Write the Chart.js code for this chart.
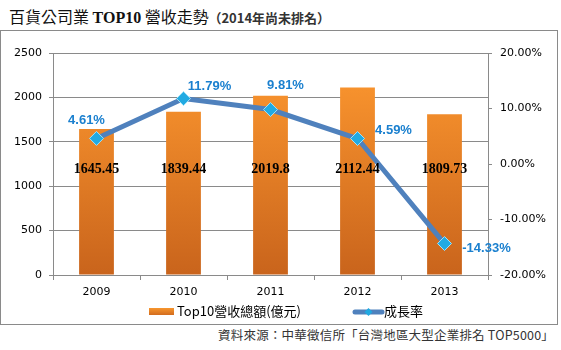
<!DOCTYPE html>
<html>
<head>
<meta charset="utf-8">
<script src="https://cdn.jsdelivr.net/npm/chart.js@4"></script>
<style>
  body { margin: 0; background: #fff; }
  .wrap { position: relative; width: 561px; height: 350px; }
  .title { position: absolute; left: 9px; top: 4px; font-family: "Noto Sans CJK TC", sans-serif; font-size: 16px; color: #111; white-space: nowrap; }
  .title b { font-family: "Liberation Serif", serif; font-size: 16px; }
  .title .sub { font-size: 13px; font-weight: bold; color: #333; margin-left: -4px; }
  .box { position: absolute; left: 0; top: 30px; width: 556px; height: 293px; border: 1px solid #8a8a8a; }
  .source { position: absolute; right: 7px; top: 325px; font-family: "Noto Sans CJK TC", sans-serif; font-size: 12.5px; color: #333; white-space: nowrap; letter-spacing: 0.2px; }
  canvas { position: absolute; left: 0; top: 0; }
</style>
</head>
<body>
<div class="wrap">
  <div class="title">百貨公司業 <b>TOP10</b> 營收走勢 <span class="sub">（2014年尚未排名）</span></div>
  <div class="box"></div>
  <div class="source">資料來源：中華徵信所「台灣地區大型企業排名 TOP5000」</div>
  <canvas id="chart" width="561" height="350"></canvas>
</div>
<script>
const years = ['2009', '2010', '2011', '2012', '2013'];
const revenue = [1645.45, 1839.44, 2019.8, 2112.44, 1809.73];
const growth = [4.61, 11.79, 9.81, 4.59, -14.33];
const revenueLabel = 'Top10營收總額(億元)';
const growthLabel = '成長率';

// where each growth label sits relative to its point
const growthLabelOffset = [[-10, -18], [26, -12], [15, -24], [36, -8], [42, 5]];

function barGradient (ctx) {
  const area = ctx.chart.chartArea;
  if (!area) return '#f08a2a';
  const g = ctx.chart.ctx.createLinearGradient(0, area.top, 0, area.bottom);
  g.addColorStop(0, '#ff9a30');
  g.addColorStop(1, '#c9641c');
  return g;
}

const labelPlugin = {
  id: 'labels',
  afterDatasetsDraw (chart) {
    const ctx = chart.ctx;
    const y = chart.scales.y;
    ctx.save();
    ctx.textAlign = 'center';
    ctx.textBaseline = 'middle';
    ctx.font = 'bold 14px "Liberation Serif"';
    ctx.fillStyle = '#000';
    chart.getDatasetMeta(0).data.forEach((bar, i) => {
      ctx.fillText(revenue[i].toString(), bar.x, y.getPixelForValue(1190));
    });
    ctx.font = 'bold 13px "Liberation Sans"';
    ctx.fillStyle = '#1b80cf';
    chart.getDatasetMeta(1).data.forEach((pt, i) => {
      const off = growthLabelOffset[i];
      ctx.fillText(growth[i].toFixed(2) + '%', pt.x + off[0], pt.y + off[1]);
    });
    ctx.restore();
  },
  afterDraw (chart) {
    const ctx = chart.ctx;
    ctx.save();
    // legend
    const lg = ctx.createLinearGradient(0, 308, 0, 315);
    lg.addColorStop(0, '#f7962e');
    lg.addColorStop(1, '#d26c1f');
    ctx.fillStyle = lg;
    ctx.fillRect(149, 308, 25, 7);
    ctx.font = '13px "Noto Sans CJK TC"';
    ctx.fillStyle = '#000';
    ctx.textBaseline = 'middle';
    ctx.fillText(revenueLabel, 177, 311);
    ctx.strokeStyle = '#4f81bd';
    ctx.lineWidth = 5;
    ctx.lineCap = 'round';
    ctx.beginPath();
    ctx.moveTo(355, 312);
    ctx.lineTo(382, 312);
    ctx.stroke();
    ctx.fillStyle = '#21a9e1';
    ctx.beginPath();
    ctx.moveTo(368.5, 308);
    ctx.lineTo(372.5, 312);
    ctx.lineTo(368.5, 316);
    ctx.lineTo(364.5, 312);
    ctx.closePath();
    ctx.fill();
    ctx.fillStyle = '#000';
    ctx.fillText(growthLabel, 384, 311);
    ctx.restore();
  }
};

new Chart(document.getElementById('chart'), {
  type: 'bar',
  data: {
    labels: years,
    datasets: [
      {
        label: revenueLabel,
        data: revenue,
        backgroundColor: barGradient,
        barPercentage: 0.4,
        categoryPercentage: 1,
        yAxisID: 'y',
        order: 2
      },
      {
        type: 'line',
        label: growthLabel,
        data: growth,
        borderColor: '#4f81bd',
        borderWidth: 5,
        tension: 0,
        pointStyle: 'rectRot',
        pointRadius: 7,
        pointBackgroundColor: '#22aae2',
        pointBorderColor: '#9fe2f8',
        pointBorderWidth: 1,
        yAxisID: 'y1',
        order: 1
      }
    ]
  },
  options: {
    responsive: false,
    animation: false,
    devicePixelRatio: 1,
    layout: { padding: { top: 53, bottom: 48, left: 0, right: 0 } },
    plugins: { legend: { display: false }, tooltip: { enabled: false } },
    scales: {
      x: {
        afterFit: (s) => { s.height = 27; },
        grid: { drawOnChartArea: false, tickLength: 5, color: '#8a8a8a' },
        border: { color: '#8a8a8a' },
        ticks: { padding: 6, color: '#000', font: { family: 'DejaVu Sans', size: 11 } }
      },
      y: {
        position: 'left',
        min: 0,
        max: 2500,
        afterFit: (s) => { s.width = 53; },
        grid: { color: '#8a8a8a', tickLength: 4 },
        border: { color: '#8a8a8a' },
        ticks: {
          stepSize: 500,
          padding: 7,
          color: '#000',
          font: { family: 'DejaVu Sans', size: 11 },
          callback: (v) => String(v)
        }
      },
      y1: {
        position: 'right',
        min: -20,
        max: 20,
        afterFit: (s) => { s.width = 73; },
        grid: { drawOnChartArea: false, color: '#8a8a8a', tickLength: 4 },
        border: { color: '#8a8a8a' },
        ticks: {
          stepSize: 10,
          padding: 8,
          color: '#000',
          font: { family: 'DejaVu Sans', size: 11 },
          callback: (v) => v.toFixed(2) + '%'
        }
      }
    }
  },
  plugins: [labelPlugin]
});
</script>
</body>
</html>
